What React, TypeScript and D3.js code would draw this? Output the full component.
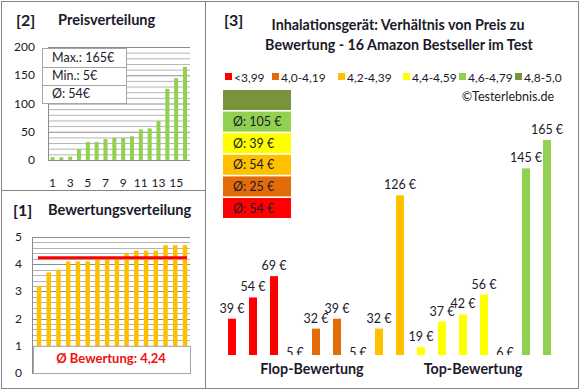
import { useEffect, useRef } from "react";
import * as d3 from "d3";

// left: all 16 products sorted
const prices = [5, 5, 6, 19, 32, 32, 37, 39, 39, 42, 54, 56, 69, 126, 145, 165];
const ratings = [3.2, 3.7, 3.8, 4.1, 4.1, 4.1, 4.2, 4.2, 4.2, 4.4, 4.5, 4.5, 4.5, 4.7, 4.7, 4.7];
const avgRating = 4.24;
const priceTicks = [0, 50, 100, 150, 200];
const ratingTicks = [0, 1, 2, 3, 4, 5];
const priceStats = ["Max.: 165€", "Min.: 5€", "Ø: 54€"];

// right: products grouped by rating class
const groupPrices = [39, 54, 69, 5, 32, 39, 5, 32, 126, 19, 37, 42, 56, 6, 145, 165];
const groupIndex = [0, 0, 0, 1, 1, 1, 2, 2, 2, 3, 3, 3, 3, 4, 4, 4];
const groupLabels = ["<3,99", "4,0-4,19", "4,2-4,39", "4,4-4,59", "4,6-4,79", "4,8-5,0"];
const groupColors = ["#FF0000", "#E36C09", "#FFC000", "#FFFF00", "#92D050", "#77933C"];
const groupAverages = ["Ø: 54 €", "Ø: 25 €", "Ø: 54 €", "Ø: 39 €", "Ø: 105 €", ""];
const priceAxisMin = 13.4; // axis of the right chart does not start at 0
const sections = ["Flop-Bewertung", "Top-Bewertung"];

const FONT = "Lato, 'Open Sans', sans-serif";
const INK = "#1a1a2a";
const BORDER = "#858585";

export default function App() {
  const ref = useRef<SVGSVGElement | null>(null);

  useEffect(() => {
    const svg = d3.select(ref.current);
    svg.selectAll("*").remove();
    svg.attr("font-family", FONT);

    // ---------- [2] Preisverteilung ----------
    const p = svg.append("g");
    p.append("text").attr("x", 16).attr("y", 26).attr("font-size", 16).attr("font-weight", 700).attr("fill", INK).text("[2]");
    p.append("text").attr("x", 58).attr("y", 25).attr("font-size", 14.6).attr("font-weight", 700).attr("fill", INK).text("Preisverteilung");

    const px = d3.scalePoint<number>().domain(d3.range(1, 17)).range([52.5, 185]);
    const py = d3.scaleLinear().domain([0, 200]).range([160, 47]);

    p.append("g")
      .selectAll("line")
      .data(d3.range(0, 201, 10))
      .join("line")
      .attr("x1", 48)
      .attr("x2", 190)
      .attr("y1", (d) => py(d) + 0.5)
      .attr("y2", (d) => py(d) + 0.5)
      .attr("stroke", (d) => (d % 50 === 0 ? "#8c8c8c" : "#b4b4b4"))
      .attr("stroke-width", 1);
    p.append("line").attr("x1", 48.5).attr("x2", 48.5).attr("y1", py(200)).attr("y2", py(0)).attr("stroke", "#8c8c8c");

    p.append("g")
      .selectAll("text")
      .data(priceTicks)
      .join("text")
      .attr("x", 35)
      .attr("y", (d) => py(d) + 4)
      .attr("text-anchor", "end")
      .attr("font-size", 12)
      .attr("fill", INK)
      .text((d) => d);

    p.append("g")
      .selectAll("rect")
      .data(prices)
      .join("rect")
      .attr("x", (d, i) => px(i + 1)! - 2)
      .attr("width", 4)
      .attr("y", (d) => py(d))
      .attr("height", (d) => py(0) - py(d))
      .attr("fill", "#92D050");

    p.append("g")
      .selectAll("text")
      .data(d3.range(1, 17, 2))
      .join("text")
      .attr("x", (d) => px(d)!)
      .attr("y", 187)
      .attr("text-anchor", "middle")
      .attr("font-size", 12)
      .attr("fill", INK)
      .text((d) => d);

    const box = p.append("g");
    box.append("rect").attr("x", 42.5).attr("y", 48.5).attr("width", 84).attr("height", 55).attr("fill", "#fff").attr("stroke", "#a6a6a6");
    [67.5, 85.5].forEach((y) => box.append("line").attr("x1", 42.5).attr("x2", 126.5).attr("y1", y).attr("y2", y).attr("stroke", "#a6a6a6"));
    priceStats.forEach((s, i) =>
      box.append("text").attr("x", 52).attr("y", 62 + i * 18).attr("font-size", 12.5).attr("fill", INK).text(s),
    );

    // ---------- [1] Bewertungsverteilung ----------
    const b = svg.append("g");
    b.append("text").attr("x", 13).attr("y", 216).attr("font-size", 16).attr("font-weight", 700).attr("fill", INK).text("[1]");
    b.append("text").attr("x", 48).attr("y", 215).attr("font-size", 14.6).attr("font-weight", 700).attr("fill", INK).text("Bewertungsverteilung");

    const bx = d3.scalePoint<number>().domain(d3.range(1, 17)).range([39, 185]);
    const by = d3.scaleLinear().domain([0, 5]).range([373, 237]);

    b.append("g")
      .selectAll("line")
      .data(d3.range(0, 26).map((d) => d / 5))
      .join("line")
      .attr("x1", 32)
      .attr("x2", 190)
      .attr("y1", (d) => Math.round(by(d)) + 0.5)
      .attr("y2", (d) => Math.round(by(d)) + 0.5)
      .attr("stroke", (d) => (Math.abs(d - Math.round(d)) < 1e-6 ? "#8c8c8c" : "#b4b4b4"));
    b.append("line").attr("x1", 32.5).attr("x2", 32.5).attr("y1", by(5)).attr("y2", by(0)).attr("stroke", "#8c8c8c");

    b.append("g")
      .selectAll("text")
      .data(ratingTicks)
      .join("text")
      .attr("x", 22)
      .attr("y", (d) => by(d) + 4)
      .attr("text-anchor", "end")
      .attr("font-size", 12)
      .attr("fill", INK)
      .text((d) => d);

    b.append("g")
      .selectAll("rect")
      .data(ratings)
      .join("rect")
      .attr("x", (d, i) => bx(i + 1)! - 2.25)
      .attr("width", 4.5)
      .attr("y", (d) => by(d))
      .attr("height", (d) => by(0) - by(d))
      .attr("fill", "#FFC000");

    b.append("line")
      .attr("x1", bx(1)! - 1)
      .attr("x2", bx(16)! + 2)
      .attr("y1", by(avgRating))
      .attr("y2", by(avgRating))
      .attr("stroke", "#FF0000")
      .attr("stroke-width", 3);

    b.append("rect").attr("x", 33.5).attr("y", by(1) + 0.5).attr("width", 157).attr("height", by(0) - by(1)).attr("fill", "#fff").attr("stroke", "#a6a6a6");
    b.append("text")
      .attr("x", 111)
      .attr("y", 363)
      .attr("text-anchor", "middle")
      .attr("font-size", 13)
      .attr("font-weight", 700)
      .attr("fill", "#F01010")
      .text(`Ø Bewertung: ${d3.format(".2f")(avgRating).replace(".", ",")}`);

    // ---------- [3] Preis zu Bewertung ----------
    const r = svg.append("g");
    r.append("text").attr("x", 224).attr("y", 26).attr("font-size", 16).attr("font-weight", 700).attr("fill", INK).text("[3]");
    r.append("text").attr("x", 398).attr("y", 30).attr("text-anchor", "middle").attr("font-size", 14.3).attr("font-weight", 700).attr("fill", INK).text("Inhalationsgerät: Verhältnis von Preis zu");
    r.append("text").attr("x", 399).attr("y", 50).attr("text-anchor", "middle").attr("font-size", 14.3).attr("font-weight", 700).attr("fill", INK).text("Bewertung - 16 Amazon Bestseller im Test");

    const legendX = [225, 272, 338, 403, 459, 515];
    groupLabels.forEach((label, i) => {
      const g = r.append("g").attr("transform", `translate(${legendX[i]},77)`);
      g.append("rect").attr("x", 0).attr("y", -4).attr("width", 7).attr("height", 7).attr("fill", groupColors[i]);
      g.append("text").attr("x", 9).attr("y", 4.5).attr("font-size", 12).attr("fill", INK).text(label);
    });
    r.append("text").attr("x", 554).attr("y", 101).attr("text-anchor", "end").attr("font-size", 12.5).attr("fill", INK).text("©Testerlebnis.de");

    groupColors.forEach((c, i) => {
      const y = 198 - i * 21.6;
      r.append("rect").attr("x", 223).attr("y", y).attr("width", 68).attr("height", 20).attr("fill", c);
      r.append("text").attr("x", 233).attr("y", y + 14.5).attr("font-size", 12.5).attr("fill", INK).text(groupAverages[i]);
    });

    const rx = d3.scalePoint<number>().domain(d3.range(16)).range([232, 547]);
    const ry = d3.scaleLinear().domain([priceAxisMin, 165]).range([355, 140]);

    r.append("clipPath").attr("id", "plot3").append("rect").attr("x", 210).attr("y", 100).attr("width", 360).attr("height", ry(priceAxisMin) - 100);
    const plot = r.append("g").attr("clip-path", "url(#plot3)");

    plot
      .selectAll("rect")
      .data(groupPrices.map((v, i) => ({ v, i })).filter((d) => d.v > priceAxisMin))
      .join("rect")
      .attr("x", (d) => rx(d.i)! - 4)
      .attr("width", 8)
      .attr("y", (d) => ry(d.v))
      .attr("height", (d) => ry(priceAxisMin) - ry(d.v))
      .attr("fill", (d) => groupColors[groupIndex[d.i]]);

    plot
      .selectAll("text")
      .data(groupPrices.map((v, i) => ({ v, i })))
      .join("text")
      .attr("x", (d) => rx(d.i)!)
      .attr("y", (d) => (d.v > priceAxisMin ? ry(d.v) - 6 : ry(priceAxisMin) + 2))
      .attr("text-anchor", "middle")
      .attr("font-size", 12.5)
      .attr("fill", INK)
      .text((d) => `${d.v} €`);

    r.append("text").attr("x", 312).attr("y", 374).attr("text-anchor", "middle").attr("font-size", 14.3).attr("font-weight", 700).attr("fill", INK).text(sections[0]);
    r.append("text").attr("x", 473).attr("y", 374).attr("text-anchor", "middle").attr("font-size", 14.3).attr("font-weight", 700).attr("fill", INK).text(sections[1]);

    // frames
    svg.append("rect").attr("x", 1.5).attr("y", 1.5).attr("width", 577).attr("height", 387).attr("fill", "none").attr("stroke", BORDER);
    svg.append("line").attr("x1", 205.5).attr("x2", 205.5).attr("y1", 1).attr("y2", 389).attr("stroke", BORDER);
    svg.append("line").attr("x1", 1).attr("x2", 206).attr("y1", 190.5).attr("y2", 190.5).attr("stroke", BORDER);
  }, []);

  return (
    <svg
      ref={ref}
      width={580}
      height={390}
      style={{ position: "absolute", left: 0, top: 0, background: "#fff" }}
    />
  );
}
